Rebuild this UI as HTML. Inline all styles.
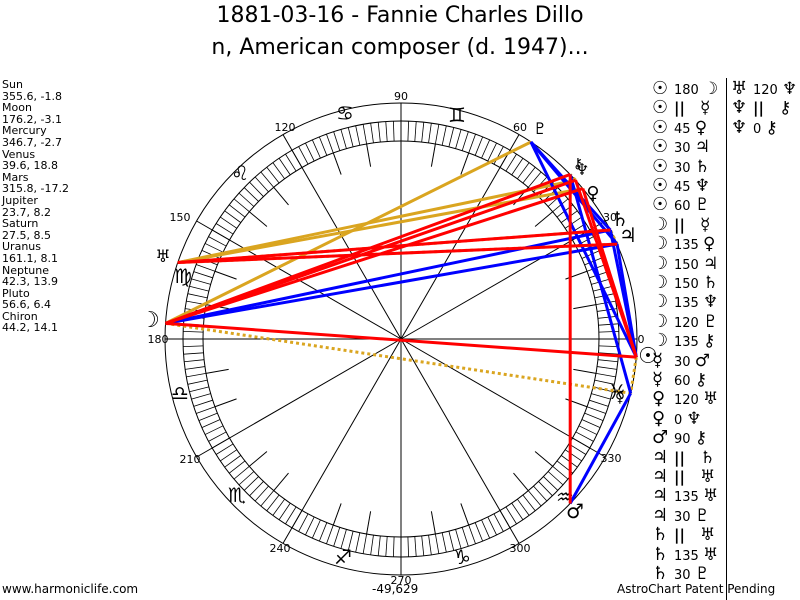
<!DOCTYPE html>
<html><head><meta charset="utf-8"><style>
body{margin:0;background:#fff;width:800px;height:600px;overflow:hidden;position:relative;font-family:"DejaVu Sans","Liberation Sans",sans-serif}
.t{position:absolute;left:0;width:800px;text-align:center;font-size:22px;color:#000}
#left{position:absolute;left:2px;top:79px;font-size:11px;line-height:11.6px}
.r{position:absolute;font-size:13px;white-space:nowrap}
.r b{font-size:18px;display:inline-block;width:22px}
.r i{font-style:normal;font-size:17px;font-weight:bold}
.r u{text-decoration:none;font-weight:bold;font-size:15px;display:inline-block;width:26px}
.f{position:absolute;top:582px;font-size:12px}
</style></head><body>
<div class="t" style="top:3px">1881-03-16 - Fannie Charles Dillo</div>
<div class="t" style="top:35px">n, American composer (d. 1947)...</div>
<div id="left">Sun<br>355.6, -1.8<br>Moon<br>176.2, -3.1<br>Mercury<br>346.7, -2.7<br>Venus<br>39.6, 18.8<br>Mars<br>315.8, -17.2<br>Jupiter<br>23.7, 8.2<br>Saturn<br>27.5, 8.5<br>Uranus<br>161.1, 8.1<br>Neptune<br>42.3, 13.9<br>Pluto<br>56.6, 6.4<br>Chiron<br>44.2, 14.1</div>
<svg id="s" width="800" height="600" style="position:absolute;left:0;top:0"></svg>
<div id="asp"></div>
<div style="position:absolute;left:726px;top:78px;width:1px;height:522px;background:#000"></div>
<div class="f" style="left:2px">www.harmoniclife.com</div>
<div class="f" style="left:372px">-49,629</div>
<div class="f" style="left:617px">AstroChart Patent Pending</div>
<script>
var s=document.getElementById('s'),h='';
var cx=401,cy=339,R=236;
function P(a,r){a=a*Math.PI/180;return[cx+r*Math.cos(a),cy-r*Math.sin(a)];}
h+='<circle cx="'+cx+'" cy="'+cy+'" r="'+R+'" fill="none" stroke="#000"/>';
h+='<circle cx="'+cx+'" cy="'+cy+'" r="218" fill="none" stroke="#000"/>';
h+='<circle cx="'+cx+'" cy="'+cy+'" r="198" fill="none" stroke="#000"/>';
for(var a=0;a<360;a+=2){var p=P(a,198),q=P(a,218);h+='<line x1="'+p[0]+'" y1="'+p[1]+'" x2="'+q[0]+'" y2="'+q[1]+'" stroke="#000" stroke-width="0.8"/>';}
for(var a=0;a<360;a+=10){var p=P(a,a%30?175:0),q=P(a,a%30?198:R);h+='<line x1="'+p[0]+'" y1="'+p[1]+'" x2="'+q[0]+'" y2="'+q[1]+'" stroke="#000"/>';}
var lab=[[0,641,343],[30,610,221],[60,520,131],[90,401,100],[120,285,131],[150,180,221],[180,158,343],[210,190,463],[240,280,552],[270,401,584],[300,520,552],[330,611,462]];
lab.forEach(function(l){h+='<text x="'+l[1]+'" y="'+l[2]+'" font-size="11" text-anchor="middle" font-family="DejaVu Sans">'+l[0]+'</text>';});
var zg=[['♊',457,122],['♋',345,120],['♌',240,180],['♍',183,283],['♎',180,400],['♏',237,502],['♐',343,564],['♑',462,564],['♒',565,504],['♓',617,399]];
zg.forEach(function(z){h+='<text x="'+z[1]+'" y="'+z[2]+'" font-size="20" font-weight="bold" text-anchor="middle" font-family="DejaVu Sans">'+z[0]+'</text>';});
var L={Su:355.6,Mo:176.2,Me:346.7,Ve:39.6,Ma:315.8,Ju:23.7,Sa:27.5,Ur:161.1,Ne:42.3,Pl:56.6,Ch:44.2};
function ln(a,b,c,d){var p=P(L[a],R),q=P(L[b],R);h+='<line x1="'+p[0]+'" y1="'+p[1]+'" x2="'+q[0]+'" y2="'+q[1]+'" stroke="'+c+'" stroke-width="3"'+(d?' stroke-dasharray="3,3"':'')+'/>';}
var O='#daa520';
[['Su','Me'],['Mo','Me'],['Ju','Sa'],['Ju','Ur'],['Sa','Ur'],['Ne','Ch']].forEach(function(x){ln(x[0],x[1],O,1);});
[['Mo','Pl'],['Ve','Ur'],['Ur','Ne']].forEach(function(x){ln(x[0],x[1],O);});
[['Su','Ju'],['Su','Sa'],['Su','Pl'],['Mo','Ju'],['Mo','Sa'],['Me','Ma'],['Me','Ch'],['Ju','Pl'],['Sa','Pl']].forEach(function(x){ln(x[0],x[1],'#00f');});
[['Su','Mo'],['Su','Ve'],['Su','Ne'],['Mo','Ve'],['Mo','Ne'],['Mo','Ch'],['Ma','Ch'],['Ju','Ur'],['Sa','Ur']].forEach(function(x){ln(x[0],x[1],'#f00');});
var pg=[['☉',648,363,22],['☽',150,327,22],['☿',620,402,17],['♀',593,199,18],['♂',575,518,20],['♃',628,242,20],['♄',620,226,20],['♅',163,262,17],['♆',582,175,16],['♇',540,134,16],['⚷',578,168,14]];
pg.forEach(function(g){h+='<text x="'+g[1]+'" y="'+g[2]+'" font-size="'+g[3]+'" font-weight="bold" text-anchor="middle" font-family="DejaVu Sans">'+g[0]+'</text>';});
s.innerHTML=h;
var c1=[['☉','180','☽'],['☉','||','☿'],['☉','45','♀'],['☉','30','♃'],['☉','30','♄'],['☉','45','♆'],['☉','60','♇'],['☽','||','☿'],['☽','135','♀'],['☽','150','♃'],['☽','150','♄'],['☽','135','♆'],['☽','120','♇'],['☽','135','⚷'],['☿','30','♂'],['☿','60','⚷'],['♀','120','♅'],['♀','0','♆'],['♂','90','⚷'],['♃','||','♄'],['♃','||','♅'],['♃','135','♅'],['♃','30','♇'],['♄','||','♅'],['♄','135','♅'],['♄','30','♇']];
var c2=[['♅','120','♆'],['♆','||','⚷'],['♆','0','⚷']];
function row(r){return '<b>'+r[0]+'</b>'+(r[1]=='||'?'<u>||</u>':r[1]+' ')+'<i>'+r[2]+'</i>';}
var a='';
c1.forEach(function(r,i){a+='<div class="r" style="left:652px;top:'+(78+i*19.4)+'px">'+row(r)+'</div>';});
c2.forEach(function(r,i){a+='<div class="r" style="left:731px;top:'+(78+i*19.4)+'px">'+row(r)+'</div>';});
document.getElementById('asp').innerHTML=a;
</script>
</body></html>
